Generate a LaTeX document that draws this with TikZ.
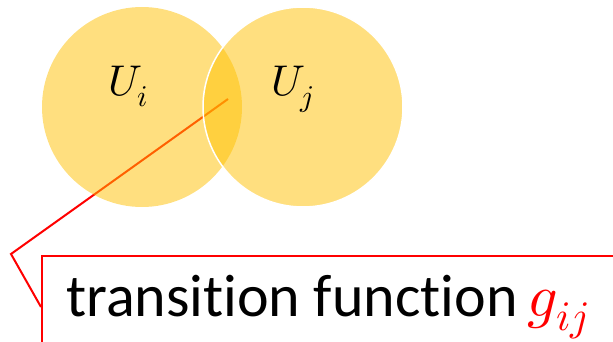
\documentclass[tikz,border=0pt]{standalone}
\usepackage{fontspec}
\usepackage{unicode-math}
\setmainfont{Carlito}[Ligatures=NoCommon]
\setmathfont{latinmodern-math.otf}
\usepackage{tikz}
\usetikzlibrary{positioning, calc}
\definecolor{patchgold}{HTML}{FFC000}
\definecolor{callred}{HTML}{FF0000}
\tikzset{
  patch/.style    = {circle, fill=patchgold, fill opacity=0.5, text opacity=1,
                     minimum size=200pt, inner sep=0pt},
  patch top/.style = {patch, draw=white, line width=1.5pt},
  chartlbl/.style = {font=\fontsize{43}{48}\selectfont, inner sep=0pt},
  callbox/.style  = {draw=callred, line width=2pt, fill=white,
                     minimum width=620pt, minimum height=120pt},
  callline/.style = {draw=callred, line width=2pt, line join=miter},
  calltext/.style = {font=\fontsize{60}{66}\selectfont, inner sep=0pt},
}

\begin{document}
\begin{tikzpicture}[x=1pt, y=-1pt]
    \clip (0,0) rectangle (613,342);

    % callout box and its leader (under the charts)
    \node[callbox, anchor=north west] (box) at (41,255) {};
    \node[calltext, anchor=base west] (txt) at (66,316)
        {transition function\hspace{10pt}\textcolor{callred}{$g_{ij}$}};

    \coordinate (hit)  at (228,99);
    \coordinate (knee) at (11,254);
    \coordinate (tip)  at ([yshift=-52pt]box.north west);
    \draw[callline] (hit) -- (knee) -- (tip);

    % the two charts
    \node[patch]     (Ui) at (142,107) {};
    \node[patch top] (Uj) at (303,107) {};

    \node[chartlbl, anchor=base west] (lbli) at (108,96) {$U_i$};
    \node[chartlbl, anchor=base west] (lblj) at (271,96) {$U_j$};
  \end{tikzpicture}
\end{document}
